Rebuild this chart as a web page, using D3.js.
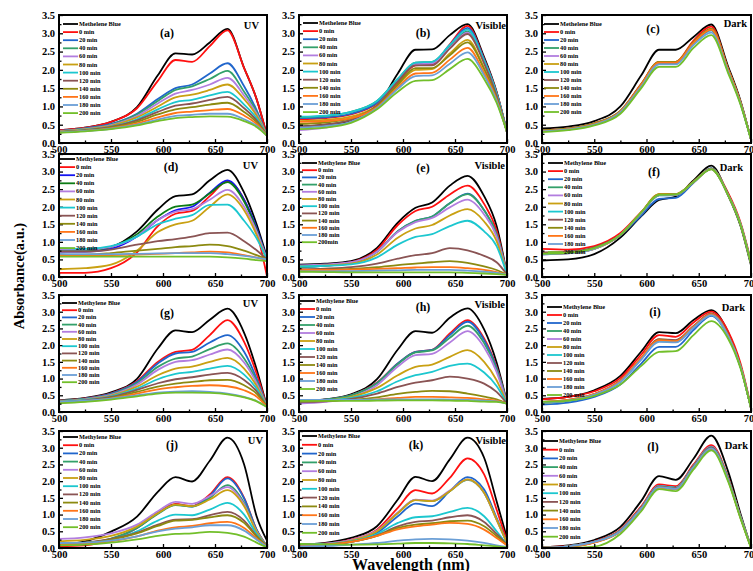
<!DOCTYPE html>
<html><head><meta charset="utf-8">
<script src="https://cdn.jsdelivr.net/npm/d3@7"></script>
<style>
body{margin:0;background:#fff}
svg{display:block}
text{font-family:"Liberation Serif","Times New Roman",serif;font-weight:bold;fill:#000}
</style>
</head><body>
<svg id="chart" width="753" height="571"></svg>
<script>
// ---------------- DATA ----------------
const wavelengths = [500, 525, 550, 575, 595, 612, 628, 645, 662, 678, 690, 700];
const xTicks = [500, 550, 600, 650, 700];
const xMinorTicks = [525, 575, 625, 675];
const yTicks = [0, 0.5, 1.0, 1.5, 2.0, 2.5, 3.0, 3.5];
const yMinorTicks = [0.25, 0.75, 1.25, 1.75, 2.25, 2.75, 3.25];
const seriesNames = ["Methylene Blue", "0 min", "20 min", "40 min", "60 min", "80 min", "100 min", "120 min", "140 min", "160 min", "180 min", "200 min"];
const seriesNamesRow1 = ["Methelene Blue", "0 min", "20 min", "40 min", "60 min", "80 min", "100 min", "120 min", "140 min", "160 min", "180 min", "200 min"];
const seriesNamesE = ["Methylene Blue", "0 min", "20 min", "40 min", "60 min", "80 min", "100 min", "120 min", "140 min", "160 min", "180 min", "200min"];
const panelLetters = ["(a)", "(b)", "(c)", "(d)", "(e)", "(f)", "(g)", "(h)", "(i)", "(j)", "(k)", "(l)"];
const panelModes = ["UV", "Visible", "Dark", "UV", "Visible", "Dark", "UV", "Visible", "Dark", "UV", "Visible", "Dark"];

const panelA = [
  [0.35, 0.42, 0.58, 0.98, 1.85, 2.45, 2.42, 2.75, 3.12, 2.05, 1.2, 0.2],
  [0.35, 0.42, 0.58, 0.95, 1.7, 2.27, 2.22, 2.65, 3.08, 2.05, 1.2, 0.2],
  [0.33, 0.4, 0.52, 0.8, 1.2, 1.5, 1.6, 1.9, 2.18, 1.55, 0.9, 0.2],
  [0.32, 0.39, 0.5, 0.78, 1.15, 1.45, 1.55, 1.75, 1.97, 1.4, 0.85, 0.2],
  [0.32, 0.38, 0.49, 0.74, 1.08, 1.35, 1.45, 1.6, 1.78, 1.3, 0.8, 0.2],
  [0.31, 0.37, 0.47, 0.7, 1.0, 1.25, 1.32, 1.45, 1.6, 1.2, 0.75, 0.2],
  [0.3, 0.36, 0.45, 0.65, 0.92, 1.12, 1.18, 1.3, 1.4, 1.05, 0.68, 0.2],
  [0.3, 0.35, 0.44, 0.62, 0.85, 1.02, 1.08, 1.18, 1.26, 0.95, 0.62, 0.2],
  [0.3, 0.34, 0.42, 0.58, 0.78, 0.92, 0.98, 1.05, 1.1, 0.85, 0.57, 0.2],
  [0.29, 0.33, 0.4, 0.54, 0.7, 0.82, 0.86, 0.9, 0.93, 0.75, 0.52, 0.2],
  [0.29, 0.33, 0.39, 0.5, 0.64, 0.74, 0.77, 0.8, 0.8, 0.65, 0.47, 0.2],
  [0.28, 0.32, 0.38, 0.48, 0.6, 0.68, 0.71, 0.73, 0.72, 0.6, 0.44, 0.2]
];
const panelB = [
  [0.45, 0.5, 0.62, 1.0, 1.9, 2.55, 2.56, 2.95, 3.25, 2.35, 1.4, 0.3],
  [0.65, 0.68, 0.78, 1.08, 1.65, 2.12, 2.15, 2.7, 3.2, 2.3, 1.38, 0.3],
  [0.68, 0.7, 0.8, 1.1, 1.7, 2.15, 2.18, 2.68, 3.15, 2.28, 1.36, 0.3],
  [0.7, 0.74, 0.85, 1.15, 1.75, 2.2, 2.22, 2.65, 3.05, 2.22, 1.33, 0.3],
  [0.35, 0.42, 0.58, 1.02, 1.7, 2.15, 2.18, 2.6, 3.02, 2.2, 1.32, 0.3],
  [0.6, 0.63, 0.72, 1.02, 1.58, 2.0, 2.02, 2.45, 2.82, 2.05, 1.25, 0.3],
  [0.72, 0.75, 0.85, 1.15, 1.75, 2.2, 2.22, 2.68, 3.1, 2.25, 1.35, 0.3],
  [0.45, 0.5, 0.63, 1.03, 1.68, 2.12, 2.12, 2.58, 2.98, 2.18, 1.3, 0.3],
  [0.52, 0.56, 0.67, 1.0, 1.6, 2.05, 2.05, 2.4, 2.75, 2.02, 1.22, 0.3],
  [0.58, 0.6, 0.68, 0.98, 1.52, 1.9, 1.92, 2.28, 2.6, 1.92, 1.18, 0.3],
  [0.42, 0.46, 0.58, 0.95, 1.48, 1.83, 1.85, 2.17, 2.48, 1.85, 1.15, 0.3],
  [0.38, 0.42, 0.55, 0.92, 1.4, 1.7, 1.72, 2.02, 2.3, 1.75, 1.1, 0.3]
];
const panelC = [
  [0.4, 0.45, 0.6, 1.0, 1.85, 2.55, 2.55, 2.9, 3.24, 2.1, 1.15, 0.1],
  [0.35, 0.4, 0.54, 0.88, 1.62, 2.22, 2.22, 2.8, 3.18, 2.05, 1.12, 0.1],
  [0.34, 0.39, 0.53, 0.86, 1.58, 2.18, 2.18, 2.75, 3.12, 2.02, 1.1, 0.1],
  [0.34, 0.39, 0.53, 0.87, 1.6, 2.2, 2.2, 2.74, 3.1, 2.01, 1.1, 0.1],
  [0.32, 0.37, 0.51, 0.85, 1.58, 2.2, 2.2, 2.72, 3.08, 2.0, 1.09, 0.1],
  [0.34, 0.39, 0.53, 0.87, 1.6, 2.22, 2.22, 2.76, 3.12, 2.02, 1.1, 0.1],
  [0.33, 0.38, 0.52, 0.86, 1.58, 2.2, 2.2, 2.72, 3.08, 2.0, 1.09, 0.1],
  [0.33, 0.38, 0.52, 0.86, 1.59, 2.2, 2.2, 2.74, 3.1, 2.01, 1.1, 0.1],
  [0.34, 0.39, 0.53, 0.87, 1.6, 2.22, 2.22, 2.76, 3.12, 2.02, 1.1, 0.1],
  [0.33, 0.38, 0.52, 0.86, 1.59, 2.2, 2.2, 2.74, 3.1, 2.01, 1.1, 0.1],
  [0.32, 0.37, 0.5, 0.84, 1.55, 2.15, 2.15, 2.68, 3.02, 1.96, 1.07, 0.1],
  [0.3, 0.35, 0.48, 0.8, 1.5, 2.08, 2.08, 2.6, 2.95, 1.92, 1.05, 0.1]
];
const panelD = [
  [0.75, 0.76, 0.86, 1.3, 1.92, 2.3, 2.35, 2.75, 3.05, 2.4, 1.5, 0.55],
  [0.12, 0.12, 0.25, 0.7, 1.45, 1.8, 1.88, 2.3, 2.72, 2.2, 1.3, 0.02],
  [0.72, 0.72, 0.8, 1.15, 1.62, 1.9, 2.0, 2.4, 2.75, 2.2, 1.4, 0.5],
  [0.75, 0.76, 0.86, 1.22, 1.72, 2.0, 2.06, 2.38, 2.7, 2.15, 1.35, 0.5],
  [0.78, 0.78, 0.86, 1.16, 1.62, 1.86, 1.93, 2.2, 2.48, 2.0, 1.3, 0.5],
  [0.22, 0.25, 0.35, 0.75, 1.28, 1.5, 1.6, 2.0, 2.35, 1.9, 1.2, 0.45],
  [0.82, 0.8, 0.88, 1.15, 1.5, 1.66, 1.76, 2.05, 2.06, 1.6, 1.1, 0.5],
  [0.72, 0.72, 0.78, 0.92, 1.02, 1.08, 1.15, 1.25, 1.26, 1.02, 0.76, 0.5],
  [0.62, 0.63, 0.68, 0.75, 0.8, 0.85, 0.88, 0.92, 0.88, 0.75, 0.62, 0.5],
  [0.62, 0.61, 0.62, 0.64, 0.66, 0.68, 0.7, 0.72, 0.7, 0.62, 0.55, 0.48],
  [0.66, 0.65, 0.65, 0.66, 0.67, 0.68, 0.68, 0.68, 0.65, 0.6, 0.55, 0.5],
  [0.58, 0.58, 0.58, 0.58, 0.58, 0.58, 0.58, 0.58, 0.56, 0.52, 0.48, 0.45]
];
const panelE = [
  [0.35, 0.38, 0.45, 0.83, 1.55, 1.97, 2.12, 2.6, 2.88, 2.3, 1.45, 0.07],
  [0.3, 0.34, 0.42, 0.78, 1.48, 1.88, 2.0, 2.35, 2.6, 2.08, 1.32, 0.07],
  [0.28, 0.32, 0.4, 0.72, 1.3, 1.6, 1.72, 2.1, 2.37, 1.9, 1.22, 0.07],
  [0.28, 0.32, 0.4, 0.72, 1.3, 1.6, 1.72, 2.1, 2.36, 1.9, 1.22, 0.07],
  [0.33, 0.36, 0.42, 0.72, 1.28, 1.56, 1.68, 1.98, 2.2, 1.78, 1.15, 0.07],
  [0.3, 0.33, 0.38, 0.64, 1.12, 1.38, 1.48, 1.75, 1.93, 1.58, 1.02, 0.07],
  [0.3, 0.32, 0.36, 0.56, 0.92, 1.14, 1.22, 1.45, 1.6, 1.3, 0.88, 0.07],
  [0.22, 0.24, 0.28, 0.38, 0.52, 0.62, 0.68, 0.82, 0.76, 0.6, 0.42, 0.07],
  [0.2, 0.21, 0.23, 0.28, 0.34, 0.38, 0.42, 0.45, 0.4, 0.3, 0.2, 0.07],
  [0.2, 0.2, 0.21, 0.23, 0.25, 0.27, 0.28, 0.28, 0.25, 0.2, 0.14, 0.07],
  [0.16, 0.16, 0.17, 0.18, 0.19, 0.2, 0.2, 0.2, 0.18, 0.15, 0.12, 0.07],
  [0.15, 0.14, 0.13, 0.13, 0.13, 0.13, 0.13, 0.13, 0.12, 0.1, 0.08, 0.06]
];
const panelF = [
  [0.47, 0.5, 0.65, 1.12, 1.73, 2.19, 2.29, 2.75, 3.17, 2.33, 1.45, 0.33],
  [0.8, 0.78, 0.88, 1.25, 1.85, 2.35, 2.36, 2.7, 3.08, 2.4, 1.55, 0.45],
  [0.68, 0.7, 0.82, 1.18, 1.75, 2.22, 2.25, 2.68, 3.1, 2.35, 1.5, 0.4],
  [0.66, 0.68, 0.8, 1.2, 1.82, 2.33, 2.34, 2.7, 3.08, 2.35, 1.5, 0.4],
  [0.64, 0.67, 0.8, 1.2, 1.82, 2.32, 2.33, 2.7, 3.08, 2.34, 1.5, 0.4],
  [0.65, 0.68, 0.8, 1.2, 1.84, 2.36, 2.36, 2.72, 3.08, 2.35, 1.5, 0.4],
  [0.68, 0.7, 0.82, 1.2, 1.82, 2.32, 2.33, 2.7, 3.08, 2.34, 1.5, 0.4],
  [0.7, 0.72, 0.84, 1.2, 1.82, 2.33, 2.34, 2.7, 3.08, 2.35, 1.5, 0.4],
  [0.66, 0.69, 0.82, 1.2, 1.83, 2.35, 2.35, 2.71, 3.08, 2.35, 1.5, 0.4],
  [0.65, 0.68, 0.8, 1.2, 1.83, 2.34, 2.34, 2.7, 3.07, 2.34, 1.5, 0.4],
  [0.64, 0.67, 0.8, 1.2, 1.82, 2.33, 2.34, 2.7, 3.07, 2.34, 1.5, 0.4],
  [0.66, 0.69, 0.82, 1.2, 1.84, 2.34, 2.35, 2.7, 3.06, 2.33, 1.48, 0.38]
];
const panelG = [
  [0.35, 0.42, 0.59, 0.99, 1.9, 2.44, 2.39, 2.76, 3.09, 2.37, 1.28, 0.15],
  [0.34, 0.41, 0.56, 0.92, 1.5, 1.8, 1.86, 2.3, 2.75, 2.1, 1.15, 0.15],
  [0.33, 0.4, 0.55, 0.9, 1.45, 1.75, 1.8, 2.08, 2.3, 1.8, 1.0, 0.15],
  [0.33, 0.39, 0.53, 0.86, 1.35, 1.6, 1.66, 1.88, 2.05, 1.6, 0.92, 0.15],
  [0.32, 0.38, 0.51, 0.82, 1.26, 1.5, 1.55, 1.72, 1.87, 1.48, 0.86, 0.15],
  [0.31, 0.37, 0.49, 0.76, 1.1, 1.3, 1.36, 1.5, 1.62, 1.3, 0.78, 0.15],
  [0.3, 0.36, 0.47, 0.7, 0.98, 1.14, 1.2, 1.3, 1.38, 1.12, 0.7, 0.15],
  [0.29, 0.35, 0.45, 0.66, 0.86, 0.98, 1.04, 1.12, 1.17, 0.96, 0.62, 0.15],
  [0.28, 0.33, 0.42, 0.6, 0.76, 0.85, 0.9, 0.95, 0.96, 0.8, 0.55, 0.15],
  [0.28, 0.32, 0.4, 0.55, 0.68, 0.74, 0.78, 0.8, 0.77, 0.65, 0.46, 0.15],
  [0.3, 0.34, 0.4, 0.5, 0.58, 0.61, 0.62, 0.6, 0.55, 0.45, 0.33, 0.15],
  [0.26, 0.3, 0.37, 0.47, 0.55, 0.58, 0.58, 0.57, 0.53, 0.44, 0.32, 0.15]
];
const panelH = [
  [0.33, 0.38, 0.53, 0.98, 1.87, 2.42, 2.37, 2.82, 3.1, 2.47, 1.48, 0.28],
  [0.32, 0.37, 0.5, 0.88, 1.45, 1.8, 1.86, 2.35, 2.75, 2.2, 1.35, 0.28],
  [0.32, 0.37, 0.5, 0.87, 1.45, 1.8, 1.86, 2.3, 2.7, 2.15, 1.32, 0.28],
  [0.32, 0.37, 0.5, 0.86, 1.43, 1.78, 1.84, 2.22, 2.58, 2.06, 1.28, 0.28],
  [0.25, 0.3, 0.44, 0.8, 1.36, 1.7, 1.74, 2.08, 2.42, 1.94, 1.2, 0.25],
  [0.3, 0.34, 0.45, 0.72, 1.1, 1.35, 1.42, 1.65, 1.85, 1.5, 0.95, 0.25],
  [0.3, 0.33, 0.42, 0.62, 0.92, 1.1, 1.2, 1.38, 1.45, 1.18, 0.78, 0.25],
  [0.3, 0.32, 0.39, 0.55, 0.75, 0.88, 0.95, 1.06, 1.0, 0.85, 0.6, 0.25],
  [0.32, 0.33, 0.36, 0.44, 0.54, 0.6, 0.63, 0.62, 0.55, 0.46, 0.38, 0.25],
  [0.35, 0.35, 0.36, 0.38, 0.42, 0.45, 0.45, 0.44, 0.42, 0.38, 0.34, 0.25],
  [0.36, 0.36, 0.36, 0.37, 0.38, 0.38, 0.38, 0.37, 0.36, 0.34, 0.32, 0.25],
  [0.33, 0.33, 0.33, 0.34, 0.35, 0.35, 0.35, 0.34, 0.33, 0.31, 0.3, 0.25]
];
const panelI = [
  [0.39, 0.45, 0.65, 1.08, 1.81, 2.39, 2.36, 2.75, 3.05, 2.39, 1.37, 0.12],
  [0.38, 0.45, 0.62, 1.02, 1.72, 2.3, 2.25, 2.68, 3.0, 2.42, 1.45, 0.15],
  [0.22, 0.28, 0.45, 0.82, 1.45, 1.95, 1.95, 2.45, 2.88, 2.28, 1.35, 0.12],
  [0.28, 0.34, 0.52, 0.92, 1.6, 2.15, 2.12, 2.55, 2.92, 2.3, 1.36, 0.12],
  [0.28, 0.34, 0.52, 0.92, 1.6, 2.15, 2.12, 2.55, 2.92, 2.3, 1.36, 0.12],
  [0.28, 0.34, 0.52, 0.92, 1.62, 2.17, 2.14, 2.56, 2.93, 2.3, 1.36, 0.12],
  [0.27, 0.33, 0.5, 0.9, 1.58, 2.12, 2.1, 2.53, 2.9, 2.28, 1.35, 0.12],
  [0.3, 0.36, 0.54, 0.95, 1.62, 2.18, 2.15, 2.57, 2.95, 2.32, 1.37, 0.12],
  [0.28, 0.34, 0.52, 0.92, 1.6, 2.15, 2.12, 2.55, 2.92, 2.3, 1.36, 0.12],
  [0.3, 0.36, 0.54, 0.94, 1.62, 2.15, 2.12, 2.55, 2.93, 2.3, 1.36, 0.12],
  [0.28, 0.34, 0.52, 0.9, 1.57, 2.1, 2.08, 2.52, 2.9, 2.28, 1.35, 0.12],
  [0.3, 0.34, 0.48, 0.82, 1.38, 1.8, 1.82, 2.3, 2.72, 2.2, 1.3, 0.12]
];
const panelJ = [
  [0.1, 0.2, 0.49, 0.94, 1.68, 2.12, 1.99, 2.61, 3.3, 2.5, 0.95, 0.22],
  [0.05, 0.08, 0.25, 0.6, 1.05, 1.32, 1.25, 1.6, 2.12, 1.5, 0.55, 0.05],
  [0.1, 0.12, 0.27, 0.6, 1.04, 1.3, 1.24, 1.56, 2.08, 1.48, 0.55, 0.05],
  [0.12, 0.15, 0.28, 0.6, 1.02, 1.28, 1.24, 1.5, 1.88, 1.35, 0.52, 0.05],
  [0.27, 0.32, 0.44, 0.7, 1.1, 1.38, 1.32, 1.55, 1.82, 1.3, 0.5, 0.05],
  [0.2, 0.24, 0.36, 0.64, 1.04, 1.3, 1.25, 1.45, 1.73, 1.25, 0.48, 0.05],
  [0.1, 0.14, 0.26, 0.5, 0.82, 1.0, 0.98, 1.15, 1.35, 1.0, 0.42, 0.05],
  [0.12, 0.16, 0.27, 0.46, 0.7, 0.85, 0.86, 0.98, 1.08, 0.82, 0.36, 0.05],
  [0.12, 0.15, 0.25, 0.44, 0.66, 0.82, 0.84, 0.92, 0.98, 0.75, 0.34, 0.05],
  [0.1, 0.12, 0.2, 0.35, 0.52, 0.62, 0.66, 0.74, 0.78, 0.6, 0.28, 0.04],
  [0.15, 0.16, 0.22, 0.35, 0.5, 0.58, 0.62, 0.68, 0.68, 0.52, 0.25, 0.04],
  [0.08, 0.1, 0.16, 0.26, 0.36, 0.42, 0.44, 0.48, 0.45, 0.34, 0.16, 0.02]
];
const panelK = [
  [0.1, 0.15, 0.3, 0.65, 1.45, 2.13, 2.0, 2.65, 3.3, 2.7, 1.4, 0.3],
  [0.1, 0.13, 0.25, 0.55, 1.2, 1.73, 1.63, 2.1, 2.68, 2.2, 1.15, 0.2],
  [0.05, 0.08, 0.18, 0.45, 0.95, 1.33, 1.25, 1.7, 2.12, 1.75, 0.9, 0.15],
  [0.08, 0.11, 0.22, 0.5, 1.05, 1.44, 1.4, 1.7, 2.04, 1.65, 0.85, 0.15],
  [0.1, 0.13, 0.24, 0.52, 1.06, 1.45, 1.42, 1.72, 2.05, 1.65, 0.85, 0.15],
  [0.08, 0.11, 0.22, 0.5, 1.04, 1.43, 1.4, 1.7, 2.05, 1.65, 0.85, 0.15],
  [0.1, 0.12, 0.2, 0.42, 0.75, 0.92, 0.95, 1.08, 1.2, 0.95, 0.5, 0.1],
  [0.08, 0.1, 0.18, 0.38, 0.65, 0.78, 0.82, 0.92, 0.98, 0.78, 0.42, 0.1],
  [0.08, 0.1, 0.18, 0.36, 0.6, 0.7, 0.74, 0.8, 0.82, 0.65, 0.36, 0.08],
  [0.08, 0.1, 0.18, 0.36, 0.56, 0.65, 0.7, 0.75, 0.72, 0.55, 0.3, 0.08],
  [0.05, 0.06, 0.1, 0.15, 0.22, 0.26, 0.27, 0.26, 0.22, 0.15, 0.08, 0.03],
  [0.12, 0.11, 0.1, 0.11, 0.13, 0.15, 0.15, 0.14, 0.12, 0.08, 0.05, 0.02]
];
const panelL = [
  [0.02, 0.08, 0.24, 0.63, 1.41, 2.15, 2.04, 2.67, 3.36, 2.3, 1.02, 0.03],
  [0.02, 0.06, 0.2, 0.55, 1.25, 1.9, 1.85, 2.5, 3.08, 2.12, 0.95, 0.02],
  [0.01, 0.05, 0.18, 0.52, 1.2, 1.85, 1.8, 2.45, 3.02, 2.08, 0.93, 0.02],
  [0.01, 0.05, 0.18, 0.52, 1.2, 1.85, 1.8, 2.45, 3.02, 2.08, 0.93, 0.02],
  [0.01, 0.05, 0.18, 0.52, 1.2, 1.86, 1.8, 2.45, 3.03, 2.08, 0.93, 0.02],
  [0.01, 0.04, 0.17, 0.5, 1.18, 1.83, 1.78, 2.42, 3.0, 2.06, 0.92, 0.02],
  [0.01, 0.05, 0.18, 0.52, 1.2, 1.85, 1.8, 2.45, 3.02, 2.08, 0.93, 0.02],
  [0.01, 0.05, 0.18, 0.51, 1.19, 1.84, 1.79, 2.44, 3.01, 2.07, 0.92, 0.02],
  [0.01, 0.04, 0.17, 0.5, 1.18, 1.82, 1.77, 2.42, 2.98, 2.05, 0.91, 0.02],
  [0.01, 0.04, 0.16, 0.49, 1.17, 1.8, 1.76, 2.4, 2.96, 2.04, 0.9, 0.02],
  [0.01, 0.05, 0.18, 0.5, 1.18, 1.82, 1.77, 2.42, 2.98, 2.05, 0.91, 0.02],
  [0.0, 0.0, 0.04, 0.42, 1.1, 1.76, 1.7, 2.35, 2.92, 2.0, 0.88, 0.0]
];

// ---------------- STYLE / LAYOUT ----------------
const palette = ["#000000", "#ff1010", "#2166cc", "#33a06a", "#b27ddf", "#c9a012", "#1cc7cf", "#8a5454", "#8c8a10", "#ff7518", "#6b9fd6", "#72bf2a"];
const paletteD = ["#000000", "#ff1010", "#1414f0", "#0c7c14", "#b27ddf", "#c9a012", "#1cc7cf", "#8a5454", "#8c8a10", "#ff7518", "#6b9fd6", "#72bf2a"];

const cols = [{x: 59, w: 208}, {x: 299, w: 208}, {x: 542, w: 209}];
const rows = [{y: 15, h: 128}, {y: 154, h: 123}, {y: 295, h: 117}, {y: 431, h: 117}];
// per panel: legend x offset, legend first y, legend spacing, letter cx, letter cy, mode right offset, mode cy
const panelLayout = [
  {lx: 4, ly: 9,  ls: 8.1, cx: 108, cy: 18, mr: 8, my: 10},
  {lx: 4, ly: 8,  ls: 8.1, cx: 124, cy: 18, mr: 1, my: 10},
  {lx: 2, ly: 9,  ls: 8.0, cx: 111, cy: 14, mr: 4, my: 8},
  {lx: 1, ly: 5,  ls: 8.1, cx: 112, cy: 13, mr: 9, my: 11},
  {lx: 3, ly: 9,  ls: 7.2, cx: 124, cy: 14, mr: 2, my: 11},
  {lx: 6, ly: 9,  ls: 8.1, cx: 112, cy: 18, mr: 8, my: 13},
  {lx: 3, ly: 8,  ls: 7.2, cx: 108, cy: 18, mr: 9, my: 8},
  {lx: 1, ly: 6,  ls: 8.0, cx: 124, cy: 12, mr: 2, my: 9},
  {lx: 5, ly: 12, ls: 8.0, cx: 113, cy: 17, mr: 6, my: 12},
  {lx: 4, ly: 6,  ls: 8.2, cx: 113, cy: 14, mr: 4, my: 9},
  {lx: 3, ly: 5,  ls: 8.8, cx: 117, cy: 14, mr: 1, my: 9},
  {lx: 1, ly: 10, ls: 8.7, cx: 111, cy: 16, mr: 3, my: 14}
];

const panels = [
  {data: panelA, names: seriesNamesRow1, colors: palette},
  {data: panelB, names: seriesNamesRow1, colors: palette},
  {data: panelC, names: seriesNamesRow1, colors: palette},
  {data: panelD, names: seriesNames, colors: paletteD},
  {data: panelE, names: seriesNamesE, colors: palette},
  {data: panelF, names: seriesNames, colors: palette},
  {data: panelG, names: seriesNames, colors: palette},
  {data: panelH, names: seriesNames, colors: palette},
  {data: panelI, names: seriesNames, colors: palette},
  {data: panelJ, names: seriesNames, colors: palette},
  {data: panelK, names: seriesNames, colors: palette},
  {data: panelL, names: seriesNames, colors: palette}
];

// ---------------- DRAW ----------------
const svg = d3.select("#chart");
svg.append("rect").attr("width", 753).attr("height", 571).attr("fill", "#fff");

panels.forEach((p, i) => {
  const col = cols[i % 3], row = rows[Math.floor(i / 3)], L = panelLayout[i];
  const w = col.w, h = row.h;
  const g = svg.append("g").attr("transform", `translate(${col.x},${row.y})`);
  const x = d3.scaleLinear().domain([500, 700]).range([0, w]);
  const y = d3.scaleLinear().domain([0, 3.5]).range([h, 0]);

  const clipId = "clip" + i;
  g.append("clipPath").attr("id", clipId).append("rect").attr("width", w).attr("height", h);

  const line = d3.line()
    .x((d, j) => x(wavelengths[j]))
    .y(d => y(d))
    .curve(d3.curveMonotoneX);

  g.append("g").attr("clip-path", `url(#${clipId})`)
    .selectAll("path").data(p.data).join("path")
    .attr("d", d => line(d))
    .attr("fill", "none")
    .attr("stroke", (d, j) => p.colors[j])
    .attr("stroke-width", 1.8)
    .attr("stroke-linejoin", "round");

  // axes
  const yAxis = g.append("g").call(d3.axisLeft(y).tickValues(yTicks).tickFormat(d3.format(".1f")).tickSize(-4).tickPadding(4));
  const yMinor = g.append("g").call(d3.axisLeft(y).tickValues(yMinorTicks).tickFormat("").tickSize(-2.5));
  const xAxis = g.append("g").attr("transform", `translate(0,${h})`)
    .call(d3.axisBottom(x).tickValues(xTicks).tickFormat(d3.format("d")).tickSize(-4).tickPadding(3));
  const xMinor = g.append("g").attr("transform", `translate(0,${h})`)
    .call(d3.axisBottom(x).tickValues(xMinorTicks).tickFormat("").tickSize(-2.5));
  [yAxis, yMinor, xAxis, xMinor].forEach(a => {
    a.select(".domain").remove();
    a.selectAll("line").attr("stroke", "#000").attr("stroke-width", 1.3);
    a.selectAll("text").attr("font-size", 10.5).attr("font-family", "Liberation Serif").attr("font-weight", "bold").attr("fill", "#000");
  });

  // frame
  g.append("rect").attr("width", w).attr("height", h)
    .attr("fill", "none").attr("stroke", "#000").attr("stroke-width", 2);

  // legend
  const lg = g.append("g").attr("transform", `translate(${L.lx},${L.ly})`);
  p.names.forEach((name, j) => {
    const yy = j * L.ls;
    lg.append("line").attr("x1", 0).attr("x2", 15).attr("y1", yy).attr("y2", yy)
      .attr("stroke", p.colors[j]).attr("stroke-width", 1.8);
    lg.append("text").attr("x", 16).attr("y", yy).attr("dy", "0.33em")
      .attr("font-size", 6.3).text(name);
  });

  // panel letter and mode
  g.append("text").attr("x", L.cx).attr("y", L.cy).attr("dy", "0.35em")
    .attr("text-anchor", "middle").attr("font-size", 12).text(panelLetters[i]);
  g.append("text").attr("x", w - L.mr).attr("y", L.my).attr("dy", "0.35em")
    .attr("text-anchor", "end").attr("font-size", 10.5).text(panelModes[i]);
});

// axis titles
svg.append("text").attr("transform", "translate(19,276) rotate(-90)")
  .attr("text-anchor", "middle").attr("dy", "0.35em").attr("font-size", 14.5)
  .text("Absorbance(a.u.)");
svg.append("text").attr("x", 411).attr("y", 570)
  .attr("text-anchor", "middle").attr("font-size", 16)
  .text("Wavelength (nm)");
</script>
</body></html>
